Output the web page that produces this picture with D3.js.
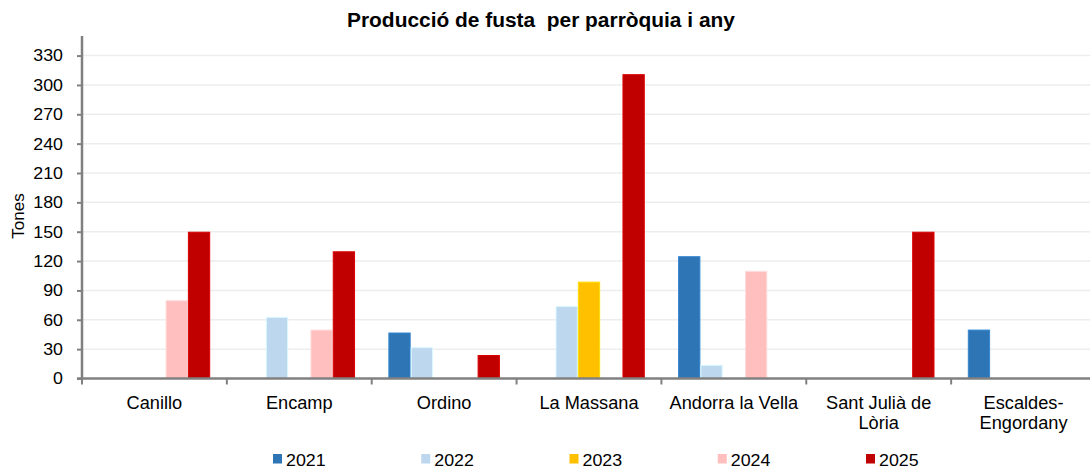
<!DOCTYPE html>
<html>
<head>
<meta charset="utf-8">
<script src="https://cdn.jsdelivr.net/npm/d3@7"></script>
<style>
  body { margin: 0; background: #fff; }
  text { font-family: "Liberation Sans", Arial, sans-serif; fill: #000; }
  .title { font-weight: bold; font-size: 20px; }
</style>
</head>
<body>
<div class="chart"></div>
<script>
const parroquies = ["Canillo", "Encamp", "Ordino", "La Massana", "Andorra la Vella", "Sant Julià de|Lòria", "Escaldes-|Engordany"];
const anys = ["2021", "2022", "2023", "2024", "2025"];
const colors = ["#2E75B6", "#BDD7EE", "#FFC000", "#FFBFBF", "#C00000"];
const v2021 = [0, 0, 47, 0, 125, 0, 50];
const v2022 = [0, 63, 32, 74, 14, 0, 0];
const v2023 = [0, 0, 0, 99, 0, 0, 0];
const v2024 = [80, 50, 0, 0, 110, 0, 0];
const v2025 = [150, 130, 24, 311, 0, 150, 0];
const yTicks = d3.range(0, 331, 30);

const series = [v2021, v2022, v2023, v2024, v2025];

const svgWidth = 1090;
const svgHeight = 469;
const svg = d3.select(".chart").append("svg")
  .attr("width", svgWidth).attr("height", svgHeight);

const margin = { top: 36, left: 82 };
const plotRight = 1096;
const zeroY = 378.5;

// widen text a little to match the source picture
const stretch = (sel, f) => {
  sel.each(function () {
    const w = this.getComputedTextLength();
    d3.select(this).attr("textLength", w * f).attr("lengthAdjust", "spacingAndGlyphs");
  });
};

const xScale = d3.scaleBand()
  .domain(parroquies)
  .range([margin.left, plotRight]);
const bw = xScale.bandwidth();
const x1 = d3.scaleBand()
  .domain(anys)
  .range([bw * 0.115, bw * 0.885]);

const yScale = d3.scaleLinear()
  .domain([0, 350])
  .range([zeroY, margin.top]);

// gridlines
svg.append("g")
  .selectAll("line")
  .data(yTicks.filter(d => d > 0))
  .enter().append("line")
  .attr("x1", margin.left).attr("x2", plotRight)
  .attr("y1", d => yScale(d)).attr("y2", d => yScale(d))
  .attr("stroke", "#EDEDED").attr("stroke-width", 1.5);

// bars
const g = svg.append("g");
anys.forEach((yr, i) => {
  g.selectAll(".bar" + yr)
    .data(parroquies.map((p, j) => ({ p, v: series[i][j] })).filter(d => d.v > 0))
    .enter().append("rect")
    .attr("x", d => xScale(d.p) + x1(yr) + 0.5)
    .attr("width", x1.bandwidth() - 1)
    .attr("y", d => yScale(d.v) + 0.5)
    .attr("height", d => zeroY - yScale(d.v) - 0.5)
    .attr("fill", colors[i])
    .attr("stroke", d3.color(colors[i]).brighter(0.4))
    .attr("stroke-width", 1);
});

// y axis
const yAxisG = svg.append("g")
  .attr("transform", `translate(${margin.left},0)`)
  .call(d3.axisLeft(yScale).tickValues(yTicks).tickSize(5).tickPadding(14));
yAxisG.select(".domain").attr("stroke", "#808080").attr("stroke-width", 2.5)
  .attr("d", `M0,${margin.top}V${zeroY}`);
yAxisG.selectAll(".tick line").attr("stroke", "#808080").attr("stroke-width", 2);
yAxisG.selectAll(".tick text")
  .style("font-size", "16.8px")
  .style("font-family", "Liberation Sans, Arial, sans-serif")
  .call(stretch, 1.06);

// x axis
const xAxisG = svg.append("g");
xAxisG.append("line")
  .attr("x1", margin.left - 5).attr("x2", plotRight)
  .attr("y1", zeroY).attr("y2", zeroY)
  .attr("stroke", "#808080").attr("stroke-width", 2.5);
xAxisG.selectAll(".xtick")
  .data(parroquies)
  .enter().append("line")
  .attr("x1", d => xScale(d)).attr("x2", d => xScale(d))
  .attr("y1", zeroY).attr("y2", zeroY + 6)
  .attr("stroke", "#808080").attr("stroke-width", 2);

const labels = xAxisG.selectAll(".xlabel")
  .data(parroquies)
  .enter().append("text")
  .attr("text-anchor", "middle")
  .style("font-size", "17.5px")
  .attr("x", d => xScale(d) + bw / 2)
  .attr("y", 409);
labels.each(function (d) {
  const lines = d.split("|");
  d3.select(this).selectAll("tspan")
    .data(lines)
    .enter().append("tspan")
    .attr("x", xScale(d) + bw / 2)
    .attr("dy", (l, k) => (k === 0 ? 0 : 20))
    .text(l => l);
});
labels.selectAll("tspan").call(stretch, 1.04);

// y label
svg.append("text")
  .attr("transform", "rotate(-90)")
  .attr("x", -216).attr("y", 24)
  .attr("text-anchor", "middle")
  .style("font-size", "17px")
  .text("Tones");

// title
svg.append("text")
  .attr("class", "title")
  .attr("x", 541).attr("y", 27)
  .attr("text-anchor", "middle")
  .style("white-space", "pre")
  .text("Producció de fusta  per parròquia i any")
  .call(stretch, 1.045);

// legend
const legend = svg.append("g");
const legendX = d3.scalePoint().domain(anys).range([273, 866]);
anys.forEach((yr, i) => {
  legend.append("rect")
    .attr("x", legendX(yr)).attr("y", 454)
    .attr("width", 9).attr("height", 9.5)
    .attr("fill", colors[i]);
  legend.append("text")
    .attr("x", legendX(yr) + 13).attr("y", 465.5)
    .style("font-size", "16.5px")
    .text(yr)
    .call(stretch, 1.08);
});
</script>
</body>
</html>
